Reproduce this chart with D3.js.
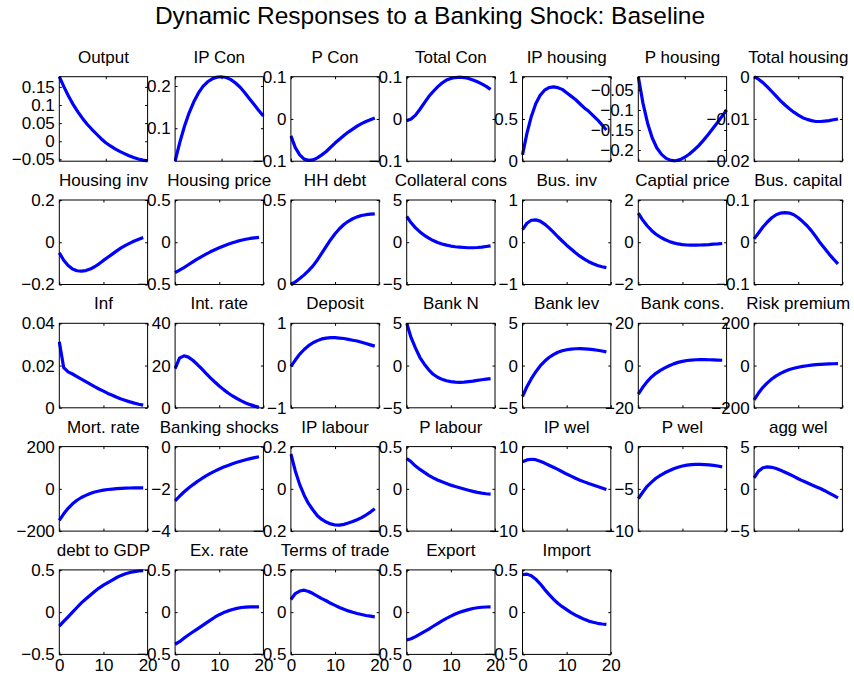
<!DOCTYPE html>
<html><head><meta charset="utf-8">
<script src="https://cdn.jsdelivr.net/npm/d3@7/dist/d3.min.js"></script>
<style>
body{margin:0;background:#fff;}
text{font-family:"Liberation Sans",Arial,Helvetica,sans-serif;fill:#000;}
</style></head>
<body><svg id="c" width="854" height="681"></svg>
<script>
// ---- data ----
const mainTitle = "Dynamic Responses to a Banking Shock: Baseline";
const titles = ["Output","IP Con","P Con","Total Con","IP housing","P housing","Total housing",
 "Housing inv","Housing price","HH debt","Collateral cons","Bus. inv","Captial price","Bus. capital",
 "Inf","Int. rate","Deposit","Bank N","Bank lev","Bank cons.","Risk premium",
 "Mort. rate","Banking shocks","IP labour","P labour","IP wel","P wel","agg wel",
 "debt to GDP","Ex. rate","Terms of trade","Export","Import"];
const periods = [0,1,2,3,4,5,6,7,8,9,10,11,12,13,14,15,16,17,18,19];

const output   = [0.178,0.150,0.124,0.101,0.081,0.063,0.047,0.033,0.020,0.007,-0.004,-0.013,-0.021,-0.028,-0.034,-0.040,-0.045,-0.049,-0.052,-0.054];
const ipCon    = [0.022,0.066,0.104,0.136,0.162,0.183,0.199,0.210,0.217,0.221,0.222,0.220,0.215,0.207,0.197,0.184,0.170,0.156,0.142,0.129];
const pCon     = [-0.040,-0.068,-0.085,-0.095,-0.098,-0.097,-0.092,-0.085,-0.077,-0.067,-0.057,-0.048,-0.039,-0.031,-0.024,-0.017,-0.011,-0.006,-0.002,0.002];
const totalCon = [-0.004,0.000,0.009,0.023,0.038,0.053,0.065,0.076,0.085,0.092,0.096,0.098,0.099,0.098,0.096,0.092,0.088,0.083,0.077,0.070];
const ipHousing= [0.075,0.33,0.53,0.68,0.78,0.84,0.87,0.88,0.87,0.85,0.81,0.77,0.73,0.68,0.63,0.59,0.54,0.49,0.43,0.37];
const pHousing = [-0.017,-0.083,-0.133,-0.170,-0.195,-0.211,-0.221,-0.226,-0.227,-0.224,-0.218,-0.210,-0.200,-0.189,-0.176,-0.162,-0.147,-0.132,-0.116,-0.100];
const totHousing=[0,-0.0006,-0.0014,-0.0024,-0.0035,-0.0046,-0.0057,-0.0067,-0.0076,-0.0084,-0.0091,-0.0097,-0.0101,-0.0104,-0.0106,-0.0106,-0.0105,-0.0104,-0.0102,-0.0100];
const housingInv=[-0.050,-0.085,-0.110,-0.127,-0.135,-0.137,-0.134,-0.127,-0.116,-0.102,-0.086,-0.071,-0.056,-0.041,-0.027,-0.015,-0.004,0.006,0.014,0.022];
const housingPrice=[-0.36,-0.33,-0.30,-0.266,-0.233,-0.20,-0.17,-0.14,-0.113,-0.088,-0.066,-0.044,-0.024,-0.006,0.010,0.023,0.035,0.045,0.052,0.057];
const hhDebt   = [0,0.015,0.035,0.057,0.082,0.110,0.145,0.185,0.225,0.265,0.300,0.330,0.355,0.374,0.389,0.400,0.408,0.413,0.416,0.418];
const collCons = [3.05,2.3,1.7,1.22,0.82,0.48,0.2,-0.02,-0.2,-0.34,-0.45,-0.53,-0.58,-0.62,-0.65,-0.65,-0.62,-0.57,-0.5,-0.42];
const busInv   = [0.30,0.45,0.52,0.53,0.50,0.43,0.34,0.24,0.13,0.03,-0.07,-0.16,-0.25,-0.33,-0.40,-0.46,-0.51,-0.55,-0.58,-0.60];
const capPrice = [1.375,1.05,0.78,0.56,0.38,0.24,0.13,0.04,-0.03,-0.08,-0.11,-0.13,-0.14,-0.14,-0.13,-0.12,-0.11,-0.09,-0.08,-0.06];
const busCapital=[0.008,0.022,0.036,0.048,0.058,0.065,0.069,0.070,0.069,0.065,0.058,0.049,0.039,0.027,0.013,-0.002,-0.015,-0.028,-0.040,-0.051];
const inf      = [0.0313,0.0190,0.0170,0.0160,0.0148,0.0136,0.0124,0.0112,0.0100,0.0089,0.0079,0.0068,0.0059,0.0050,0.0042,0.0035,0.0028,0.0022,0.0017,0.0013];
const intRate  = [18.6,23.5,24.6,24.0,22.5,20.6,18.5,16.3,14.2,12.2,10.3,8.6,7.0,5.6,4.4,3.3,2.3,1.5,0.8,0.2];
const deposit  = [-0.02,0.13,0.27,0.38,0.47,0.54,0.59,0.63,0.65,0.66,0.66,0.65,0.64,0.62,0.60,0.58,0.55,0.52,0.49,0.46];
const bankN    = [5.0,3.3,2.06,0.95,0.16,-0.5,-1.03,-1.38,-1.63,-1.8,-1.9,-1.96,-1.98,-1.96,-1.9,-1.85,-1.75,-1.68,-1.61,-1.55];
const bankLev  = [-3.66,-2.5,-1.55,-0.75,-0.05,0.5,0.95,1.3,1.57,1.75,1.87,1.95,1.99,2.0,1.98,1.94,1.88,1.81,1.72,1.62];
const bankCons = [-13.5,-10.3,-7.6,-5.4,-3.7,-2.3,-1.1,-0.1,0.8,1.5,2.0,2.4,2.6,2.75,2.8,2.8,2.75,2.7,2.6,2.5];
const riskPrem = [-162,-130,-103,-82,-64,-49,-37,-27,-19,-13,-8,-4,-1,2,4,6,7,8,8.5,9];
const mortRate = [-149,-118,-92,-71,-54,-41,-31,-22,-15,-10,-6,-3,-1,1,2,3,4,4.5,5,5];
const bankShock= [-2.57,-2.35,-2.15,-1.97,-1.81,-1.66,-1.52,-1.39,-1.27,-1.16,-1.06,-0.97,-0.89,-0.81,-0.74,-0.68,-0.62,-0.57,-0.52,-0.48];
const ipLabour = [0.165,0.085,0.02,-0.03,-0.07,-0.10,-0.127,-0.145,-0.157,-0.166,-0.171,-0.172,-0.168,-0.162,-0.155,-0.146,-0.136,-0.124,-0.110,-0.094];
const pLabour  = [0.36,0.32,0.27,0.23,0.195,0.16,0.13,0.105,0.083,0.063,0.044,0.027,0.012,-0.002,-0.017,-0.03,-0.042,-0.051,-0.058,-0.063];
const ipWel    = [6.4,6.85,7.0,6.9,6.55,6.1,5.6,5.1,4.6,4.05,3.5,3.0,2.5,2.05,1.65,1.25,0.9,0.55,0.2,-0.16];
const pWel     = [-6.15,-5.4,-4.7,-4.2,-3.75,-3.4,-3.1,-2.85,-2.62,-2.45,-2.3,-2.2,-2.13,-2.1,-2.1,-2.13,-2.17,-2.23,-2.3,-2.4];
const aggWel   = [1.3,2.1,2.5,2.6,2.55,2.4,2.2,1.97,1.72,1.47,1.2,0.95,0.72,0.48,0.26,0.04,-0.22,-0.5,-0.78,-1.07];
const debtGDP  = [-0.165,-0.11,-0.055,0.0,0.055,0.11,0.155,0.2,0.245,0.285,0.32,0.35,0.38,0.41,0.435,0.455,0.47,0.48,0.487,0.49];
const exRate   = [-0.38,-0.35,-0.31,-0.27,-0.235,-0.2,-0.165,-0.13,-0.095,-0.06,-0.03,-0.005,0.015,0.032,0.045,0.055,0.06,0.062,0.063,0.063];
const tot      = [0.15,0.22,0.25,0.26,0.245,0.22,0.19,0.16,0.135,0.105,0.08,0.055,0.035,0.015,-0.002,-0.016,-0.028,-0.04,-0.048,-0.055];
const exportS  = [-0.33,-0.315,-0.29,-0.26,-0.23,-0.2,-0.167,-0.135,-0.103,-0.073,-0.047,-0.022,-0.002,0.015,0.03,0.043,0.052,0.058,0.061,0.063];
const importS  = [0.443,0.45,0.43,0.39,0.335,0.27,0.21,0.155,0.105,0.065,0.03,-0.005,-0.035,-0.06,-0.085,-0.106,-0.12,-0.132,-0.14,-0.145];

const series = [output,ipCon,pCon,totalCon,ipHousing,pHousing,totHousing,
 housingInv,housingPrice,hhDebt,collCons,busInv,capPrice,busCapital,
 inf,intRate,deposit,bankN,bankLev,bankCons,riskPrem,
 mortRate,bankShock,ipLabour,pLabour,ipWel,pWel,aggWel,
 debtGDP,exRate,tot,exportS,importS];

const xMax = [19,19,20,20,20,19,20, 20,20,20,20,20,20,20, 20,20,20,20,20,20,20, 20,20,20,20,20,20,20, 20,20,20,20,20];
const yDomains = [[-0.055,0.178],[0.022,0.222],[-0.1,0.1],[-0.1,0.1],[0,1],[-0.228,-0.017],[-0.02,0],
 [-0.2,0.2],[-0.5,0.5],[0,0.5],[-5,5],[-1,1],[-2,2],[-0.1,0.1],
 [0,0.04],[0,40],[-1,1],[-5,5],[-5,5],[-20,20],[-200,200],
 [-200,200],[-4,0],[-0.2,0.2],[-0.5,0.5],[-10,10],[-10,0],[-5,5],
 [-0.5,0.5],[-0.5,0.5],[-0.5,0.5],[-0.5,0.5],[-0.5,0.5]];
const yTicks = [[-0.05,0,0.05,0.1,0.15],[0.1,0.2],[-0.1,0,0.1],[-0.1,0,0.1],[0,0.5,1],[-0.2,-0.15,-0.1,-0.05],[-0.02,-0.01,0],
 [-0.2,0,0.2],[-0.5,0,0.5],[0,0.5],[-5,0,5],[-1,0,1],[-2,0,2],[-0.1,0,0.1],
 [0,0.02,0.04],[0,20,40],[-1,0,1],[-5,0,5],[-5,0,5],[-20,0,20],[-200,0,200],
 [-200,0,200],[-4,-2,0],[-0.2,0,0.2],[-0.5,0,0.5],[-10,0,10],[-10,-5,0],[-5,0,5],
 [-0.5,0,0.5],[-0.5,0,0.5],[-0.5,0,0.5],[-0.5,0,0.5],[-0.5,0,0.5]];
const xTicks = [0,10,20];

// ---- drawing ----
const svg = d3.select("#c");
const ncol = 7, left0 = 59.3, colStep = 115.8, top0 = 76.7, rowStep = 123.3, pw = 88.3, ph = 84.5;
const fmt = v => String(v).replace("-", "\u2212");
const plotLayer = svg.append("g");
const labelLayer = svg.append("g");

labelLayer.append("text").attr("x", 430).attr("y", 24).attr("text-anchor","middle")
  .style("font-size","24.5px").text(mainTitle);

titles.forEach((t, i) => {
  const r = Math.floor(i / ncol), c = i % ncol;
  const x0 = left0 + c * colStep, y0 = top0 + r * rowStep;
  const g = plotLayer.append("g").attr("transform", `translate(${x0},${y0})`);
  const gl = labelLayer.append("g").attr("transform", `translate(${x0},${y0})`);
  const x = d3.scaleLinear().domain([0, xMax[i]]).range([0, pw]);
  const y = d3.scaleLinear().domain(yDomains[i]).range([ph, 0]);
  const isBottom = i >= 28;

  // title
  gl.append("text").attr("x", pw/2).attr("y", -14).attr("text-anchor","middle")
    .style("font-size","17px").text(t);

  // data line (clipped to axes)
  const cid = "clip" + i;
  g.append("clipPath").attr("id", cid).append("rect").attr("x",-1.5).attr("y",-1.5).attr("width",pw+3).attr("height",ph+3);
  const line = d3.line().x((d, k) => x(periods[k])).y(d => y(d)).curve(d3.curveLinear);
  g.append("path").datum(series[i]).attr("d", line).attr("clip-path", `url(#${cid})`)
    .attr("fill","none").attr("stroke","#0000ff").attr("stroke-width",3.2)
    .attr("stroke-linejoin","round").attr("stroke-linecap","butt");

  // box
  g.append("rect").attr("x",0).attr("y",0).attr("width",pw).attr("height",ph)
    .attr("fill","none").attr("stroke","#000").attr("stroke-width",1);

  // y ticks inward on both sides, labels on the left
  const yAxisL = d3.axisLeft(y).tickValues(yTicks[i]).tickSize(-2.5).tickPadding(4.5).tickFormat(fmt);
  const ga = gl.append("g").call(yAxisL);
  ga.select(".domain").remove();
  ga.selectAll("text").style("font-size","17px").attr("fill","#000");
  ga.selectAll("line").attr("stroke","#000");
  const gr = g.append("g").attr("transform",`translate(${pw},0)`)
    .call(d3.axisRight(y).tickValues(yTicks[i]).tickSize(-2.5).tickFormat(""));
  gr.select(".domain").remove();

  // x ticks inward top and bottom, labels only on bottom row
  const xt = xTicks.filter(v => v <= xMax[i]);
  const gb = gl.append("g").attr("transform",`translate(0,${ph})`)
    .call(d3.axisBottom(x).tickValues(xt).tickSize(-2.5).tickPadding(5)
      .tickFormat(isBottom ? (v => String(v)) : ""));
  gb.select(".domain").remove();
  gb.selectAll("text").style("font-size","17px").attr("fill","#000");
  const gt = g.append("g").call(d3.axisTop(x).tickValues(xt).tickSize(-2.5).tickFormat(""));
  gt.select(".domain").remove();
});
</script></body></html>
